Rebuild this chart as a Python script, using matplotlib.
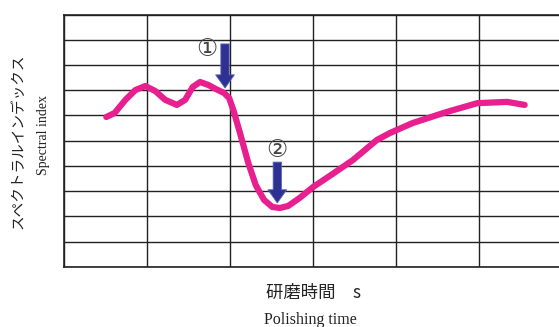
import matplotlib.pyplot as plt

# Polishing time (grid units) and spectral index (grid units)
time = [0.51, 0.61, 0.74, 0.86, 0.98, 1.10, 1.22, 1.36, 1.46, 1.55, 1.64,
        1.74, 1.83, 1.93, 1.99, 2.04, 2.12, 2.22, 2.31, 2.41, 2.51, 2.60,
        2.70, 2.84, 3.00, 3.20, 3.48, 3.77, 3.93, 4.20, 4.61, 4.98, 5.34, 5.55]
index = [5.94, 6.10, 6.62, 7.01, 7.17, 6.97, 6.62, 6.42, 6.62, 7.13, 7.33,
         7.21, 7.05, 6.89, 6.69, 6.22, 5.31, 4.12, 3.24, 2.65, 2.37, 2.33,
         2.41, 2.73, 3.16, 3.60, 4.23, 5.03, 5.31, 5.70, 6.14, 6.49, 6.54, 6.42]

# Markers: label, x, arrow top, arrow tip, label position
markers = [("①", 1.94, 8.84, 7.09, (1.72, 8.62)),
           ("②", 2.57, 4.15, 2.53, (2.57, 4.65))]

fig = plt.figure(figsize=(5.59, 3.27), dpi=100)
ax = fig.add_axes([64 / 559, 60.3 / 327, 498 / 559, 252 / 327])

ax.set_xlim(0, 6)
ax.set_ylim(0, 10)
ax.set_xticks(range(7))
ax.set_yticks(range(11))
ax.grid(True, color="#222222", linewidth=1.0)
ax.tick_params(length=0, labelbottom=False, labelleft=False)
for s in ax.spines.values():
    s.set_color("#222222")
    s.set_linewidth(1.2)

ax.plot(time, index, color="#E8208F", linewidth=4.5,
        solid_capstyle="round", solid_joinstyle="round", zorder=3)

for label, x, top, tip, pos in markers:
    ax.annotate("", xy=(x, tip), xytext=(x, top),
                arrowprops=dict(width=6, headwidth=13.5, headlength=9.5,
                                facecolor="#2E3192", edgecolor="#5a63b8",
                                linewidth=0.6, shrink=0),
                zorder=4)
    ax.text(pos[0], pos[1], label, fontsize=17, ha="center", va="center",
            family=["DejaVu Sans"], color="#444444", zorder=5)

fig.text(18 / 559, 1 - 141 / 327, "スペクトラルインデックス", rotation=90,
         ha="center", va="center", fontsize=10.5,
         family=["Noto Sans CJK JP", "DejaVu Sans"], color="#222222")
fig.text(44 / 559, 1 - 135 / 327, "Spectral index", rotation=90,
         ha="center", va="center", fontsize=10,
         family=["Liberation Serif"], color="#222222")
fig.text(313 / 559, 1 - 293 / 327, "研磨時間　s", ha="center", va="center",
         fontsize=12.5, family=["Noto Sans CJK JP", "DejaVu Sans"],
         color="#222222")
fig.text(310 / 559, 1 - 320 / 327, "Polishing time", ha="center",
         va="center", fontsize=11.5, family=["Liberation Serif"],
         color="#222222")

fig.savefig("out.png", dpi=100)
